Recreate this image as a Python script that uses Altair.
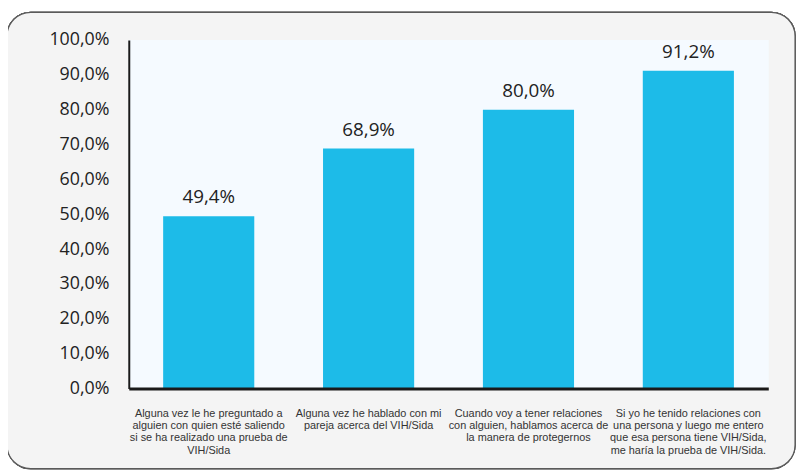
import altair as alt
import pandas as pd

categories = [
    "Alguna vez le he preguntado a|alguien con quien esté saliendo|si se ha realizado una prueba de|VIH/Sida",
    "Alguna vez he hablado con mi|pareja acerca del VIH/Sida",
    "Cuando voy a tener relaciones|con alguien, hablamos acerca de|la manera de protegernos",
    "Si yo he tenido relaciones con|una persona y luego me entero|que esa persona tiene VIH/Sida,|me haría la prueba de VIH/Sida.",
]
values = [49.4, 68.9, 80.0, 91.2]
labels = ["49,4%", "68,9%", "80,0%", "91,2%"]
yticks = [0, 10, 20, 30, 40, 50, 60, 70, 80, 90, 100]

df = pd.DataFrame({"cat": categories, "val": values, "lab": labels})

W, H = 646, 352
PAD_L, PAD_T, PAD_R, PAD_B = 122, 30, 29, 83

frame = alt.Chart(df).mark_rect(
    fill="#f4f4f4", stroke="#5a5a5a", strokeWidth=1.2, cornerRadius=24
).encode(
    x=alt.value(-123), x2=alt.value(673), y=alt.value(-28), y2=alt.value(433)
)

plotbg = alt.Chart(df).mark_rect(fill="#f5faff").encode(
    x=alt.value(0), x2=alt.value(W), y=alt.value(0), y2=alt.value(H)
)

xenc = alt.X(
    "cat:N",
    sort=categories,
    title=None,
    scale=alt.Scale(paddingInner=0.43, paddingOuter=0.215),
    axis=alt.Axis(
        labelAngle=0,
        labelExpr="split(datum.label, '|')",
        labelFont="Liberation Sans",
        labelFontSize=11,
        labelColor="#333333",
        labelLineHeight=12.5,
        labelPadding=19,
        labelBaseline="top",
        labelOverlap=False,
        ticks=False,
        domainColor="#1a1a1a",
        domainWidth=3,
        labelLimit=200,
        zindex=2,
    ),
)
yenc = alt.Y(
    "val:Q",
    title=None,
    scale=alt.Scale(domain=[0, 100], nice=False),
    axis=alt.Axis(
        values=yticks,
        tickCount=11,
        labelExpr="replace(format(datum.value, '.1f'), '.', ',') + '%'",
        labelFont="Open Sans",
        labelFontSize=18,
        labelColor="#222222",
        labelPadding=20,
        labelOverlap=False,
        labelFlush=False,
        ticks=False,
        grid=False,
        domainColor="#1a1a1a",
        domainWidth=2,
        zindex=2,
    ),
)

bars = alt.Chart(df).mark_bar(color="#1dbbe8").encode(x=xenc, y=yenc)

text = alt.Chart(df).mark_text(
    baseline="bottom", dy=-9, font="Open Sans", fontSize=19, color="#222222"
).encode(x=xenc, y=yenc, text="lab:N")

chart = alt.layer(frame, plotbg, bars, text).properties(
    width=W,
    height=H,
    autosize=alt.AutoSizeParams(type="none"),
    padding={"left": PAD_L, "top": PAD_T, "right": PAD_R, "bottom": PAD_B},
    background="white",
).configure_view(stroke=None).configure_axis(labelOverlap=False)

chart.save("out.html", embed_options={"renderer": "svg", "actions": False})
